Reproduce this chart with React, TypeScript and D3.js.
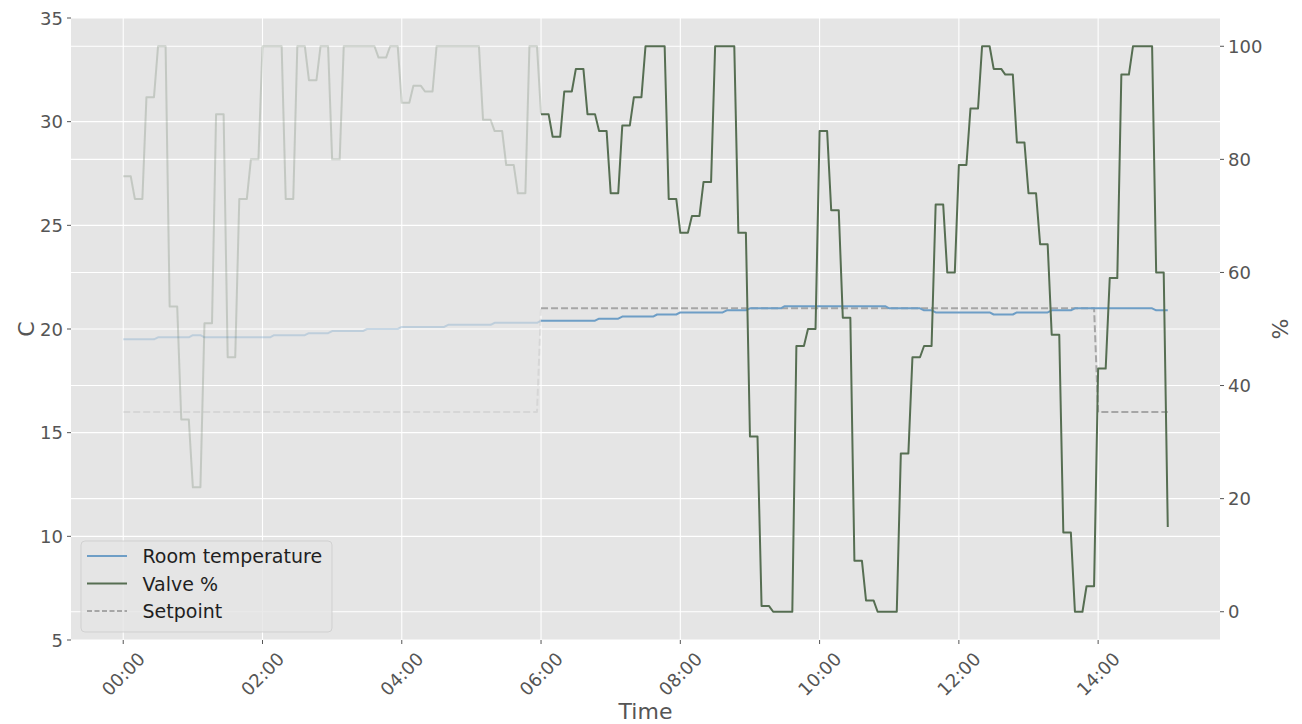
import React from 'react';
import * as d3 from 'd3';

// Samples every 10 minutes from 00:00 to 15:00
const slotMinutes: number[] = d3.range(0, 901, 10);

const valvePct: number[] = [
  77, 73, 91, 100, 54, 34, 22, 51, 88, 45,
  73, 80, 100, 100, 73, 100, 94, 100, 80, 100,
  100, 100, 98, 100, 90, 93, 92, 100, 100, 100,
  100, 87, 85, 79, 74, 100, 88, 84, 92, 96,
  88, 85, 74, 86, 91, 100, 100, 73, 67, 70,
  76, 100, 100, 67, 31, 1, 0, 0, 47, 50,
  85, 71, 52, 9, 2, 0, 0, 28, 45, 47,
  72, 60, 79, 89, 100, 96, 95, 83, 74, 65,
  49, 14, 0, 4.5, 43, 59, 95, 100, 100, 60,
  15,
];

const roomTemp: number[] = [
  19.5, 19.5, 19.5, 19.6, 19.6, 19.6, 19.7, 19.6, 19.6, 19.6,
  19.6, 19.6, 19.6, 19.7, 19.7, 19.7, 19.8, 19.8, 19.9, 19.9,
  19.9, 20.0, 20.0, 20.0, 20.1, 20.1, 20.1, 20.1, 20.2, 20.2,
  20.2, 20.2, 20.3, 20.3, 20.3, 20.3, 20.4, 20.4, 20.4, 20.4,
  20.4, 20.5, 20.5, 20.6, 20.6, 20.6, 20.7, 20.7, 20.8, 20.8,
  20.8, 20.8, 20.9, 20.9, 21.0, 21.0, 21.0, 21.1, 21.1, 21.1,
  21.1, 21.1, 21.1, 21.1, 21.1, 21.1, 21.0, 21.0, 21.0, 20.9,
  20.8, 20.8, 20.8, 20.8, 20.8, 20.7, 20.7, 20.8, 20.8, 20.8,
  20.9, 20.9, 21.0, 21.0, 21.0, 21.0, 21.0, 21.0, 21.0, 20.9,
  20.9,
];

const setpointC: number[] = [
  16, 16, 16, 16, 16, 16, 16, 16, 16, 16,
  16, 16, 16, 16, 16, 16, 16, 16, 16, 16,
  16, 16, 16, 16, 16, 16, 16, 16, 16, 16,
  16, 16, 16, 16, 16, 16, 21, 21, 21, 21,
  21, 21, 21, 21, 21, 21, 21, 21, 21, 21,
  21, 21, 21, 21, 21, 21, 21, 21, 21, 21,
  21, 21, 21, 21, 21, 21, 21, 21, 21, 21,
  21, 21, 21, 21, 21, 21, 21, 21, 21, 21,
  21, 21, 21, 21, 16, 16, 16, 16, 16, 16,
  16,
];

// Samples up to (and including) 06:00 are drawn as faded history
const historyEnd = 36;

const timeTickMinutes = [0, 120, 240, 360, 480, 600, 720, 840];
const timeTickLabels = ['00:00', '02:00', '04:00', '06:00', '08:00', '10:00', '12:00', '14:00'];
const tempTicks = [5, 10, 15, 20, 25, 30, 35];
const pctTicks = [0, 20, 40, 60, 80, 100];

const W = 1302;
const H = 724;
const plot = { left: 71, right: 1220, top: 18, bottom: 640 };
const FONT = 'DejaVu Sans, sans-serif';
const TEXT_GREY = '#555555';
const TEMP_COLOR = '#6e9ec6';
const VALVE_COLOR = '#566e52';
const SET_COLOR = '#a6a6a6';

// Each sample is held for a while, then ramps to the next one
function holdThenRamp(hold: number) {
  return (context: any) => {
    let x0 = NaN;
    let y0 = NaN;
    let started = false;
    return {
      areaStart() {},
      areaEnd() {},
      lineStart() {
        started = false;
      },
      lineEnd() {},
      point(x: number, y: number) {
        x = +x;
        y = +y;
        if (!started) {
          started = true;
          context.moveTo(x, y);
        } else {
          context.lineTo(x0 + (x - x0) * hold, y0);
          context.lineTo(x, y);
        }
        x0 = x;
        y0 = y;
      },
    };
  };
}

export default function App() {
  const x = d3.scaleLinear().domain([-45, 945]).range([plot.left, plot.right]);
  const yT = d3.scaleLinear().domain([5, 35]).range([plot.bottom, plot.top]);
  const yP = d3.scaleLinear().domain([-5, 105]).range([plot.bottom, plot.top]);

  const curve = holdThenRamp(0.65) as any;
  const tempLine = d3.line<number>().x((_, i) => x(slotMinutes[i])).y((d) => yT(d)).curve(curve);
  const setLine = d3.line<number>().x((_, i) => x(slotMinutes[i])).y((d) => yT(d)).curve(curve);
  const valveLine = d3.line<[number, number]>().x((d) => x(d[0])).y((d) => yP(d[1])).curve(curve);

  const split = (vals: number[]) => {
    const pairs = vals.map((v, i) => [slotMinutes[i], v] as [number, number]);
    return [pairs.slice(0, historyEnd + 1), pairs.slice(historyEnd)];
  };
  const tempLineP = d3.line<[number, number]>().x((d) => x(d[0])).y((d) => yT(d[1])).curve(curve);

  const [tempHist, tempNow] = split(roomTemp);
  const [setHist, setNow] = split(setpointC);
  const [valveHist, valveNow] = split(valvePct);

  const legendItems = [
    { label: 'Room temperature', color: TEMP_COLOR, dash: undefined as string | undefined },
    { label: 'Valve %', color: VALVE_COLOR, dash: undefined },
    { label: 'Setpoint', color: SET_COLOR, dash: '5,2.5' },
  ];

  return (
    <svg
      width={W}
      height={H}
      style={{ position: 'absolute', left: 0, top: 0, display: 'block', background: '#ffffff' }}
      fontFamily={FONT}
    >
      <rect x={plot.left} y={plot.top} width={plot.right - plot.left} height={plot.bottom - plot.top} fill="#e5e5e5" />

      {/* grid */}
      <g stroke="#ffffff" strokeWidth={1.1}>
        {tempTicks.map((t) => (
          <line key={'gt' + t} x1={plot.left} x2={plot.right} y1={yT(t)} y2={yT(t)} />
        ))}
        {pctTicks.map((t) => (
          <line key={'gp' + t} x1={plot.left} x2={plot.right} y1={yP(t)} y2={yP(t)} />
        ))}
        {timeTickMinutes.map((t) => (
          <line key={'gx' + t} x1={x(t)} x2={x(t)} y1={plot.top} y2={plot.bottom} />
        ))}
      </g>

      {/* faded history before 06:00 */}
      <g fill="none" strokeWidth={2} strokeLinejoin="round">
        <path d={tempLineP(setHist) || ''} stroke={SET_COLOR} strokeDasharray="7,3" opacity={0.22} />
        <path d={tempLineP(tempHist) || ''} stroke={TEMP_COLOR} opacity={0.32} />
        <path d={valveLine(valveHist) || ''} stroke={VALVE_COLOR} opacity={0.24} />
      </g>

      {/* current period */}
      <g fill="none" strokeWidth={2} strokeLinejoin="round">
        <path d={tempLineP(setNow) || ''} stroke={SET_COLOR} strokeDasharray="7,3" />
        <path d={tempLineP(tempNow) || ''} stroke={TEMP_COLOR} />
        <path d={valveLine(valveNow) || ''} stroke={VALVE_COLOR} />
      </g>

      {/* left axis */}
      <g fill={TEXT_GREY} fontSize={18}>
        {tempTicks.map((t) => (
          <g key={'lt' + t}>
            <line x1={plot.left - 4} x2={plot.left} y1={yT(t)} y2={yT(t)} stroke={TEXT_GREY} strokeWidth={1} />
            <text x={plot.left - 8} y={yT(t)} textAnchor="end" dominantBaseline="central">
              {t}
            </text>
          </g>
        ))}
      </g>

      {/* right axis */}
      <g fill={TEXT_GREY} fontSize={18}>
        {pctTicks.map((t) => (
          <g key={'rt' + t}>
            <line x1={plot.right} x2={plot.right + 4} y1={yP(t)} y2={yP(t)} stroke={TEXT_GREY} strokeWidth={1} />
            <text x={plot.right + 8} y={yP(t)} textAnchor="start" dominantBaseline="central">
              {t}
            </text>
          </g>
        ))}
      </g>

      {/* time axis */}
      <g fill={TEXT_GREY} fontSize={18}>
        {timeTickMinutes.map((t, i) => (
          <g key={'xt' + t}>
            <line x1={x(t)} x2={x(t)} y1={plot.bottom} y2={plot.bottom + 4} stroke={TEXT_GREY} strokeWidth={1} />
            <text
              transform={`translate(${x(t)},${plot.bottom + 34}) rotate(-45)`}
              textAnchor="middle"
              dominantBaseline="central"
            >
              {timeTickLabels[i]}
            </text>
          </g>
        ))}
      </g>

      {/* axis labels */}
      <g fill={TEXT_GREY} fontSize={22}>
        <text x={(plot.left + plot.right) / 2} y={719} textAnchor="middle">
          Time
        </text>
        <text transform={`translate(34,${(plot.top + plot.bottom) / 2}) rotate(-90)`} textAnchor="middle">
          C
        </text>
        <text transform={`translate(1288,${(plot.top + plot.bottom) / 2}) rotate(-90)`} textAnchor="middle">
          %
        </text>
      </g>

      {/* legend */}
      <g>
        <rect x={81} y={541} width={251} height={91} rx={4} fill="#e5e5e5" fillOpacity={0.8} stroke="#cccccc" strokeOpacity={0.8} />
        {legendItems.map((it, i) => {
          const cy = 556 + i * 27.5;
          return (
            <g key={it.label}>
              <line x1={87} x2={127} y1={cy} y2={cy} stroke={it.color} strokeWidth={2} strokeDasharray={it.dash} />
              <text x={142.5} y={cy} fontSize={19} fill="#1f1f1f" dominantBaseline="central">
                {it.label}
              </text>
            </g>
          );
        })}
      </g>
    </svg>
  );
}
